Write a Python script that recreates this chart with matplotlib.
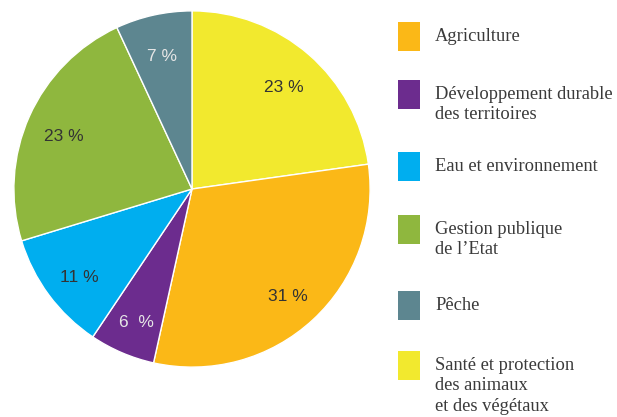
import matplotlib.pyplot as plt
from matplotlib.patches import Rectangle
import numpy as np

# slices, clockwise from 12 o'clock
shares = [23, 31, 6, 11, 23, 7]
pct_text = ["23 %", "31 %", "6  %", "11 %", "23 %", "7 %"]
colors = ["#F2E92E", "#FBB817", "#6C2C8E", "#00AEEF", "#8FB73E", "#5D8690"]
pct_colors = ["#333333", "#333333", "#E6E6E6", "#333333", "#333333", "#E6E6E6"]

# legend order
legend_names = ["Agriculture", "Développement durable\ndes territoires",
                "Eau et environnement", "Gestion publique\nde l\u2019Etat", "Pêche",
                "Santé et protection\ndes animaux\net des végétaux"]
legend_colors = ["#FBB817", "#6C2C8E", "#00AEEF", "#8FB73E", "#5D8690", "#F2E92E"]

W, H = 617, 417
fig = plt.figure(figsize=(W / 100, H / 100), dpi=100)
ax = fig.add_axes([13 / W, (H - 368) / H, 358 / W, 358 / H])

wedges, texts = ax.pie(shares, colors=colors, startangle=90, counterclock=False,
                       wedgeprops=dict(edgecolor="white", linewidth=1.0))
ax.set_xlim(-1.005, 1.005)
ax.set_ylim(-1.005, 1.005)

# percentage labels near mid-angle of each slice
ang = 90.0
total = sum(shares)
for s, t, c in zip(shares, pct_text, pct_colors):
    span = 360.0 * s / total
    mid = np.deg2rad(ang - span / 2)
    ax.text(0.79 * np.cos(mid), 0.79 * np.sin(mid) - 0.025, t, ha="center",
            va="center", fontsize=12.5, color=c, family="Liberation Sans")
    ang -= span

# legend, drawn by hand
patch_tops = [22, 80, 152, 215, 291, 351]
for top, name, col in zip(patch_tops, legend_names, legend_colors):
    fig.patches.append(Rectangle((398 / W, 1 - (top + 29) / H), 22 / W, 29 / H,
                                 transform=fig.transFigure, facecolor=col,
                                 edgecolor="none"))
    fig.text(435 / W, 1 - (top + 6) / H, name, ha="left", va="top",
             fontsize=13.3, color="#3a3a3a", family="Liberation Serif",
             linespacing=1.26)

fig.savefig("out.png", dpi=100)
